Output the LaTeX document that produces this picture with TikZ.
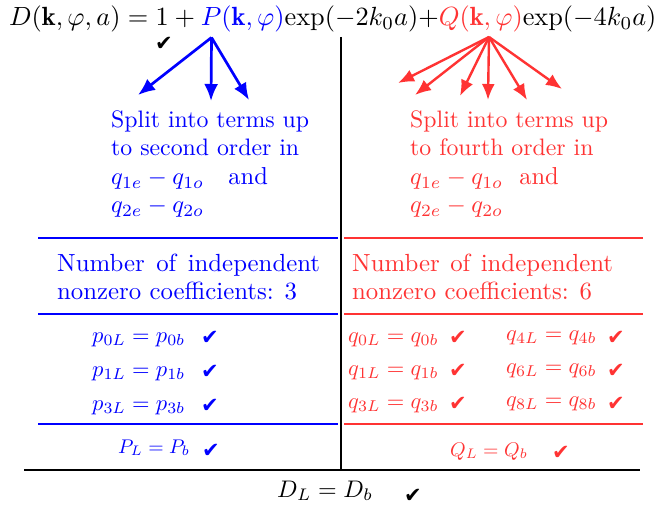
\documentclass[tikz,border=0pt]{standalone}
\usepackage{fontspec}
\usetikzlibrary{arrows.meta}
\newfontfamily\chkfont{DejaVu Sans}
\definecolor{myblue}{RGB}{0,0,255}
\definecolor{myred}{RGB}{255,51,51}
\newcommand{\myscl}[2]{\scalebox{#1}{#2}}
\begin{document}
\begin{tikzpicture}[x=1pt,y=-1pt,
  txt/.style={anchor=base west,inner sep=0pt,font=\normalsize},
  ck/.style={anchor=base west,inner sep=0pt,font=\chkfont\fontsize{21}{21}\selectfont},
  barrow/.style={myblue,line width=2.7pt,-{Latex[length=17pt,width=14pt]}},
  rarrow/.style={myred,line width=2.4pt,-{Latex[length=16pt,width=13pt]}},
  brule/.style={myblue,line width=2.4pt},
  rrule/.style={myred,line width=2.4pt},
  krule/.style={black,line width=2.8pt}]
\useasboundingbox (0,0) rectangle (661,513);

% top equation
\node[txt] (eq) at (9,26)
 {\myscl{2.63}{$D(\mathbf{k},\varphi,a)=1+{\color{myblue}P(\mathbf{k},\varphi)}\mathrm{exp}(-2k_0a){+}{\color{myred}Q(\mathbf{k},\varphi)}\mathrm{exp}(-4k_0a)$}};
\node[ck] (ck0) at (155,51) {✔};

% arrow origins and tips
\coordinate (pO) at (211.5,37.5);
\coordinate (pT1) at (138,95);
\coordinate (pT2) at (211,101);
\coordinate (pT3) at (249,100);
\coordinate (qO) at (489,37);
\coordinate (qT1) at (398,83);
\coordinate (qT2) at (415,95);
\coordinate (qT3) at (460,96);
\coordinate (qT4) at (488,100);
\coordinate (qT5) at (527,100);
\coordinate (qT6) at (562,89);
\foreach \t in {pT1,pT2,pT3} \draw[barrow] (pO) -- (\t);
\foreach \t in {qT1,qT2,qT3,qT4,qT5,qT6} \draw[rarrow] (qO) -- (\t);

% vertical divider
\coordinate (vTop) at (341,37);
\coordinate (vBot) at (341,470);
\draw[krule] (vTop) -- (vBot);

% left text
\node[txt,myblue] (ls1) at (111,128) {\myscl{2.38}{Split into terms up}};
\node[txt,myblue] (ls2) at (111,156) {\myscl{2.38}{to second order in}};
\node[txt,myblue] (ls3) at (111,185) {\myscl{2.45}{$q_{1e}-q_{1o}$\ \ \ and}};
\node[txt,myblue] (ls4) at (111,213) {\myscl{2.45}{$q_{2e}-q_{2o}$}};
% right text
\node[txt,myred] (rs1) at (410,128) {\myscl{2.38}{Split into terms up}};
\node[txt,myred] (rs2) at (410,156) {\myscl{2.38}{to fourth order in}};
\node[txt,myred] (rs3) at (410,185) {\myscl{2.45}{$q_{1e}-q_{1o}$\ \ and}};
\node[txt,myred] (rs4) at (410,213) {\myscl{2.45}{$q_{2e}-q_{2o}$}};

% rules
\coordinate (bl1a) at (38,238); \coordinate (bl1b) at (338,238);
\coordinate (bl2a) at (38,314); \coordinate (bl2b) at (338,314);
\coordinate (bl3a) at (38,424); \coordinate (bl3b) at (338,424);
\coordinate (rl1a) at (344,238); \coordinate (rl1b) at (643,238);
\coordinate (rl2a) at (344,314); \coordinate (rl2b) at (643,314);
\coordinate (rl3a) at (344,424); \coordinate (rl3b) at (643,424);
\draw[brule] (bl1a) -- (bl1b);
\draw[brule] (bl2a) -- (bl2b);
\draw[brule] (bl3a) -- (bl3b);
\draw[rrule] (rl1a) -- (rl1b);
\draw[rrule] (rl2a) -- (rl2b);
\draw[rrule] (rl3a) -- (rl3b);
\coordinate (kla) at (24,470); \coordinate (klb) at (640,470);
\draw[krule] (kla) -- (klb);

% number of coefficients
\node[txt,myblue] (ln1) at (57,271) {\myscl{2.48}{\makebox[106pt][s]{Number of independent}}};
\node[txt,myblue] (ln2) at (57,299) {\myscl{2.48}{nonzero coefficients: 3}};
\node[txt,myred] (rn1) at (352,271) {\myscl{2.48}{\makebox[105.2pt][s]{Number of independent}}};
\node[txt,myred] (rn2) at (352,299) {\myscl{2.48}{nonzero coefficients: 6}};

% p coefficients
\node[txt,myblue] (p0) at (92,342) {\myscl{2.25}{$p_{0L}=p_{0b}$}};
\node[txt,myblue] (p1) at (92,376) {\myscl{2.25}{$p_{1L}=p_{1b}$}};
\node[txt,myblue] (p3) at (92,410) {\myscl{2.25}{$p_{3L}=p_{3b}$}};
\node[ck,myblue] (cp0) at (201,344) {✔};
\node[ck,myblue] (cp1) at (201,378) {✔};
\node[ck,myblue] (cp3) at (201,412) {✔};

% q coefficients
\node[txt,myred] (q0) at (348,342) {\myscl{2.25}{$q_{0L}=q_{0b}$}};
\node[txt,myred] (q1) at (348,375) {\myscl{2.25}{$q_{1L}=q_{1b}$}};
\node[txt,myred] (q3) at (348,408) {\myscl{2.25}{$q_{3L}=q_{3b}$}};
\node[txt,myred] (q4) at (506,340) {\myscl{2.25}{$q_{4L}=q_{4b}$}};
\node[txt,myred] (q6) at (506,373) {\myscl{2.25}{$q_{6L}=q_{6b}$}};
\node[txt,myred] (q8) at (506,406) {\myscl{2.25}{$q_{8L}=q_{8b}$}};
\node[ck,myred] (cq0) at (449,344) {✔};
\node[ck,myred] (cq1) at (449,377) {✔};
\node[ck,myred] (cq3) at (449,410) {✔};
\node[ck,myred] (cq4) at (607,344) {✔};
\node[ck,myred] (cq6) at (607,377) {✔};
\node[ck,myred] (cq8) at (607,410) {✔};

% totals
\node[txt,myblue] (PL) at (118,453) {\myscl{1.98}{$P_L=P_b$}};
\node[ck,myblue] (cPL) at (202,457) {✔};
\node[txt,myred] (QL) at (450,456) {\myscl{1.98}{$Q_L=Q_b$}};
\node[ck,myred] (cQL) at (552,459) {✔};
\node[txt] (DL) at (277,497) {\myscl{2.4}{$D_L=D_b$}};
\node[ck] (cDL) at (404,502) {✔};
\end{tikzpicture}
\end{document}
